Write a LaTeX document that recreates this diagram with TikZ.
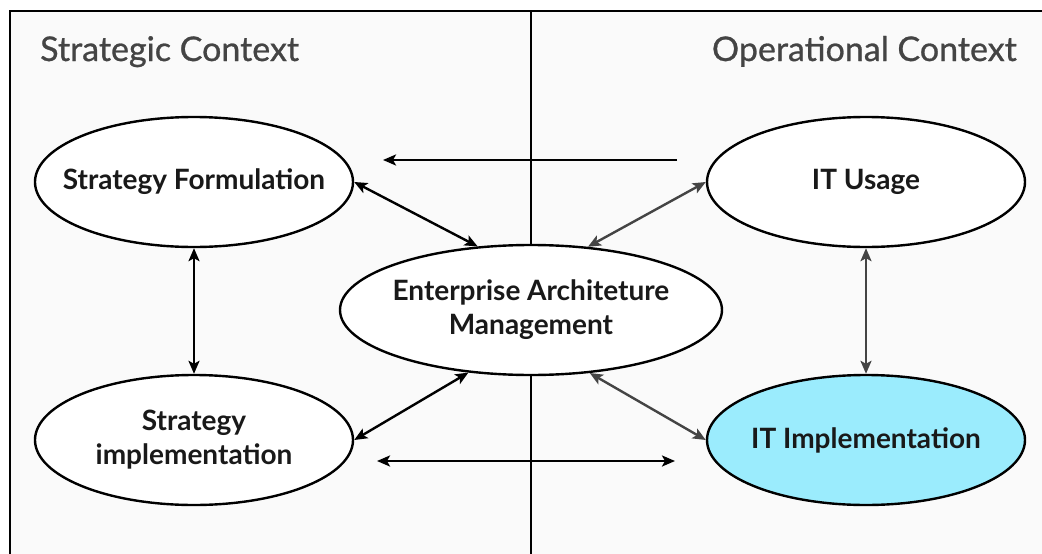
\documentclass[tikz,border=0pt]{standalone}
\usepackage{fontspec}
\setmainfont{Lato}
\newfontfamily\ctxfont[FakeBold=0.8]{Lato}
\usetikzlibrary{arrows.meta,shapes.geometric}
\definecolor{paper}{HTML}{FAFAFA}
\definecolor{titlegray}{HTML}{444444}
\definecolor{arrowgray}{HTML}{444444}
\definecolor{itcyan}{RGB}{155,236,253}

\begin{document}
\begin{tikzpicture}[
  x=1pt, y=-1pt,
  proc/.style={draw, ellipse, line width=2.4pt, fill=white,
               inner xsep=-30pt, inner ysep=0pt,
               minimum width=318pt, minimum height=130pt,
               align=center, font=\fontsize{28}{34}\selectfont\bfseries, text=black!90},
  ctx/.style={font=\ctxfont\fontsize{34}{38}\selectfont, text=titlegray, inner sep=0pt},
  arrow/.style={{Stealth[length=13pt,width=11pt,inset=3pt]}-{Stealth[length=13pt,width=11pt,inset=3pt]},
                line width=2.4pt},
  onearrow/.style={-{Stealth[length=13pt,width=11pt,inset=3pt]}, line width=2.4pt}
]

% Canvas and frame
\useasboundingbox (0,0) rectangle (1042,554);
\fill[white] (0,0) rectangle (1042,554);
\fill[paper] (10,11) rectangle (1042,554);
\draw[line width=2.2pt] (10,554) -- (10,11) -- (1042,11);
\draw[line width=2.6pt] (531,11) -- (531,554);

% Context titles
\node[ctx, anchor=base west] (strat) at (40,61) {Strategic Context};
\node[ctx, anchor=base east] (oper) at (1017,61) {Operational Context};

% Left column
\node[proc] (sf) at (194,182) {Strategy Formulation};
\node[proc] (si) at (194,440) {Strategy\\implementation};

% Right column
\node[proc] (itu) at (866,182) {IT Usage};
\node[proc, fill=itcyan] (iti) at (866,440) {IT Implementation};

% Centre
\node[proc, minimum width=382pt] (eam) at (531,310) {Enterprise Architeture\\Management};

% Free ends of the horizontal arrows
\coordinate (topR) at (677,160);
\coordinate (topL) at (383,160);
\coordinate (botL) at (377,461);
\coordinate (botR) at (675,461);

% Arrows on the strategic side
\draw[arrow] (sf.east) -- (eam.130);
\draw[arrow] (si.east) -- (eam.225);
\draw[arrow] (sf.south) -- (si.north);

% Arrows on the operational side
\draw[arrow, arrowgray] (itu.west) -- (eam.48);
\draw[arrow, arrowgray] (iti.west) -- (eam.-47);
\draw[arrow, arrowgray] (itu.south) -- (iti.north);

% Horizontal arrows
\draw[onearrow] (topR) -- (topL);
\draw[arrow] (botL) -- (botR);

\end{tikzpicture}
\end{document}
